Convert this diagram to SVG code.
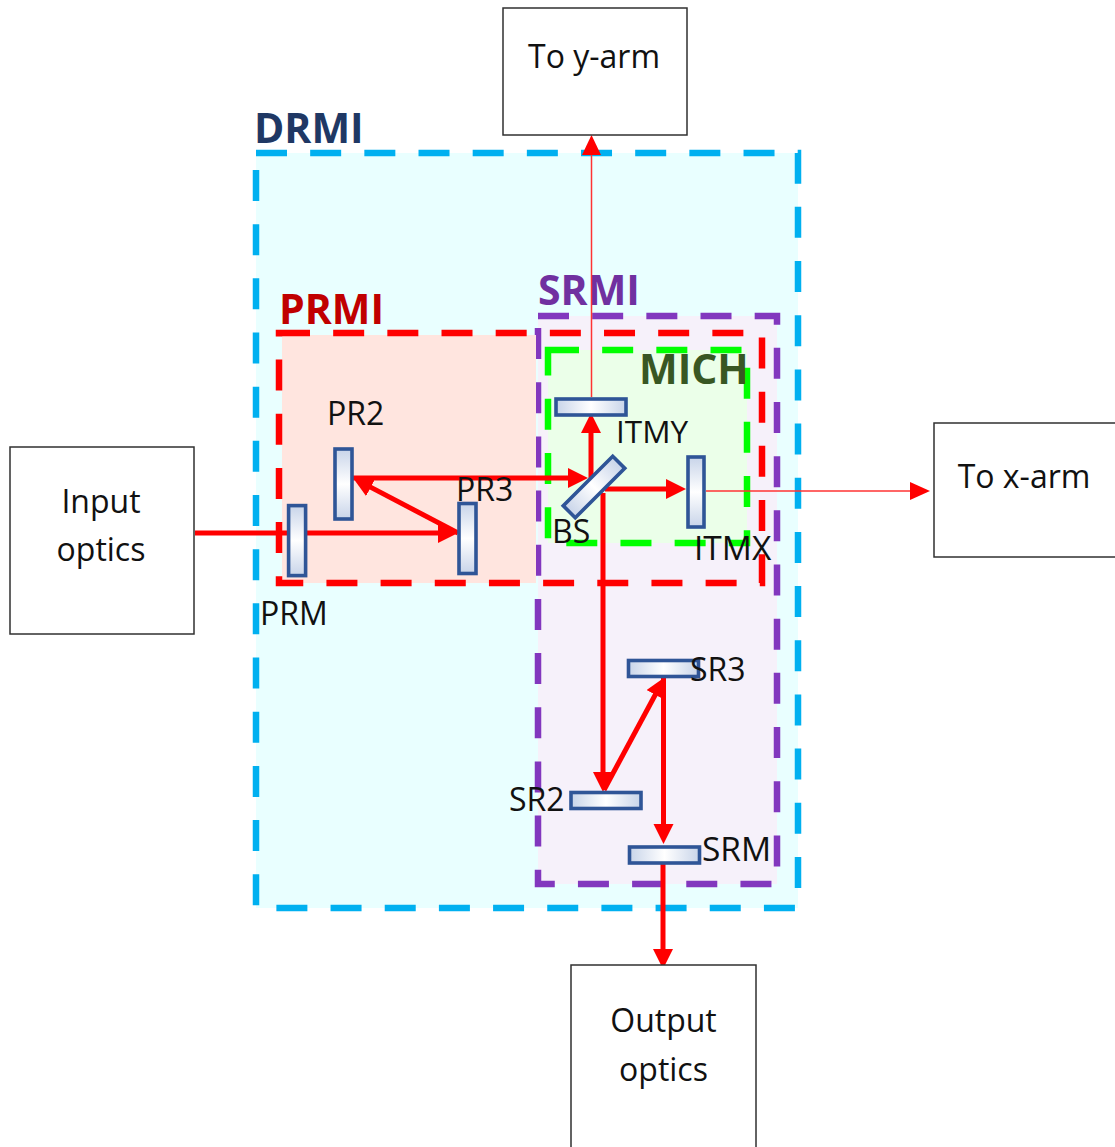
<svg xmlns="http://www.w3.org/2000/svg" width="1115" height="1147" viewBox="0 0 1115 1147">
<style>
text{font-family:"Open Sans","Noto Sans","Liberation Sans",sans-serif;fill:#111;font-size:32px}
.c{text-anchor:middle}
.z{font-weight:700;font-size:41px}
.box{fill:#fff;stroke:#303030;stroke-width:1.5}
.zone{fill:none;stroke-width:6.500;stroke-dasharray:31 23.17}
.m{stroke:#2F5597;stroke-width:3.6}
.t{fill:none;stroke:#f00;stroke-width:5}
.n{fill:none;stroke:#f33;stroke-width:1.5}
</style>
<defs>
<linearGradient id="gh"><stop offset="0" stop-color="#C8D4E9"/><stop offset=".5" stop-color="#fff"/><stop offset="1" stop-color="#C8D4E9"/></linearGradient>
<linearGradient id="gv" x2="0" y2="1"><stop offset="0" stop-color="#C8D4E9"/><stop offset=".5" stop-color="#fff"/><stop offset="1" stop-color="#C8D4E9"/></linearGradient>
<marker id="a" markerUnits="userSpaceOnUse" markerWidth="21" markerHeight="21" refX="10" refY="10" orient="auto"><path d="M0 0L20 10L0 20Z" fill="#f00"/></marker>
</defs>
<g id="drmi"><rect x="256" y="153" width="542" height="755" fill="#E9FFFF"/><path class="zone" stroke="#00B0F0" d="M256 153H798V908H256Z"/><text class="z" x="254" y="143" style="fill:#1F3864">DRMI</text></g>
<g id="srmi"><rect x="538" y="316" width="239" height="568" fill="#F6F1FA"/><path class="zone" stroke="#8237BE" d="M538 316H777V884H538Z"/><text class="z" x="538" y="305" style="fill:#7030A0">SRMI</text></g>
<g id="prmi"><rect x="282" y="335" width="254" height="248" fill="#FFE5DF"/><path class="zone" stroke="#f00" d="M279 333H762V583H279Z"/><text class="z" x="279" y="324" style="fill:#C00000">PRMI</text></g>
<g id="mich"><rect x="548" y="350" width="199" height="193" fill="#EBFFE9"/><path class="zone" stroke="#0f0" d="M548 350H747V543H548Z"/><text class="z" x="639" y="384" style="fill:#385723">MICH</text></g>
<g id="connectors">
<path class="t" d="M195 533H448" marker-end="url(#a)"/>
<path class="t" d="M458 533L361.900 482.600" marker-end="url(#a)"/>
<path class="t" d="M353 478H578" marker-end="url(#a)"/>
<path class="t" d="M591 478V423" marker-end="url(#a)"/>
<path class="n" d="M591.500 397V150"/>
<path d="M591.500 135L601 155H582Z" fill="#f00"/>
<path class="t" d="M605 489H676" marker-end="url(#a)"/>
<path class="n" d="M706 491H915"/>
<path d="M930 491L910 482V500Z" fill="#f00"/>
<path class="t" d="M603 493V782" marker-end="url(#a)"/>
<path class="t" d="M604 790L660 686" marker-end="url(#a)"/>
<path class="t" d="M663.500 678V834" marker-end="url(#a)"/>
<path class="t" d="M663 864V959" marker-end="url(#a)"/>
</g>
<g id="to-y-arm"><rect class="box" x="503" y="8" width="184" height="127"/><text class="c" x="594" y="68">To y-arm</text></g>
<g id="input-optics"><rect class="box" x="10" y="447" width="184" height="187"/><text class="c" x="101" y="513">Input</text><text class="c" x="101" y="561">optics</text></g>
<g id="to-x-arm"><rect class="box" x="934" y="423" width="190" height="134"/><text class="c" x="1024" y="488">To x-arm</text></g>
<g id="output-optics"><rect class="box" x="571" y="965" width="185" height="190"/><text class="c" x="663.500" y="1032">Output</text><text class="c" x="663.500" y="1081">optics</text></g>
<g id="prm"><rect class="m" fill="url(#gv)" x="288.600" y="505.600" width="17" height="70"/><text x="260" y="625">PRM</text></g>
<g id="pr2"><rect class="m" fill="url(#gv)" x="335" y="449" width="17" height="70"/><text x="327" y="425">PR2</text></g>
<g id="pr3"><rect class="m" fill="url(#gv)" x="459" y="503.500" width="17" height="70"/><text x="456" y="501">PR3</text></g>
<g id="itmy"><rect class="m" fill="url(#gh)" x="556" y="399" width="70" height="16"/><text x="616" y="443" style="font-size:31.500px">ITMY</text></g>
<g id="itmx"><rect class="m" fill="url(#gv)" x="688" y="457" width="16" height="70"/><text x="694" y="560" style="font-size:33.500px">ITMX</text></g>
<g id="bs"><rect class="m" fill="url(#gh)" x="559" y="478.500" width="70" height="17" transform="rotate(-45 594 487)"/><text x="552" y="543">BS</text></g>
<g id="sr3"><rect class="m" fill="url(#gh)" x="628.500" y="660.500" width="70" height="16"/><text x="690" y="681">SR3</text></g>
<g id="sr2"><rect class="m" fill="url(#gh)" x="571" y="792.500" width="70" height="16"/><text x="509" y="811">SR2</text></g>
<g id="srm"><rect class="m" fill="url(#gh)" x="629.500" y="847" width="70" height="16"/><text x="702" y="861" style="font-size:33.500px">SRM</text></g>
</svg>
